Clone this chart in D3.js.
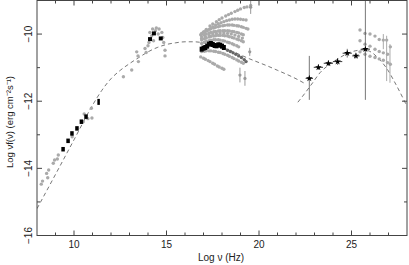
<!DOCTYPE html>
<html><head><meta charset="utf-8">
<script src="https://cdn.jsdelivr.net/npm/d3@7"></script>
<style>body{margin:0;background:#fff}svg{display:block}text{font-family:"Liberation Sans",Arial,sans-serif;fill:#222}</style>
</head><body><svg id="c" width="409" height="265"></svg>
<script>
// ---- data ----
const xTicksMajor = [10, 15, 20, 25];
const yTicksMajor = [-10, -12, -14, -16];
const synchModel = [[8,-15.2],[9,-14.18],[10,-13.15],[11,-12.12],[11.5,-11.68],[12,-11.33],[12.5,-11.08],[13,-10.88],[13.5,-10.7],[14,-10.53],[14.5,-10.4],[15,-10.31],[15.5,-10.26],[16,-10.23],[16.5,-10.23],[17,-10.26],[17.5,-10.31],[18,-10.39],[18.5,-10.5],[19,-10.62],[19.5,-10.74],[20,-10.85],[20.5,-10.96],[21,-11.08],[21.5,-11.2],[22,-11.33],[22.5,-11.48]];
const icModel = [[22.1,-12.03],[22.5,-11.75],[22.9,-11.45],[23.3,-11.15],[23.7,-10.95],[24.2,-10.76],[24.7,-10.6],[25.2,-10.5],[25.7,-10.47],[26.1,-10.55],[26.5,-10.75],[26.9,-11.02],[27.4,-11.5],[28,-12.15]];
const radioGrey = [[8.23,-14.47],[8.3,-14.38],[8.52,-14.15],[8.58,-14.28],[8.63,-14.05],[8.88,-13.85],[8.95,-13.75],[9.1,-13.72],[9.15,-13.6],[9.9,-13.06],[10.5,-12.61],[10.55,-12.38],[10.75,-12.52],[10.94,-12.21],[10.97,-12.5]];
const radioBlack = [[9.41,-13.43],[9.68,-13.18],[9.89,-12.96],[10.16,-12.81],[10.40,-12.61],[10.65,-12.46],[11.33,-12.02]];
const optGrey = [[12.67,-11.27],[13.12,-11.07],[13.39,-10.53],[13.48,-10.82],[13.46,-10.65],[13.84,-10.43],[13.9,-10.55],[14.05,-10.25],[14.1,-9.95],[14.25,-9.85],[14.45,-9.82],[14.6,-9.85],[14.75,-9.95],[14.8,-10.1],[14.55,-10.0],[14.2,-10.05],[14.85,-10.25],[14.92,-10.48],[14.92,-10.65],[14.3,-10.2],[14.0,-10.35],[14.4,-9.9]];
const optBlack = [[14.11,-10.15],[14.32,-9.98],[14.69,-10.13]];
const xrayA = [[16.85,-10.02],[17.0,-9.94],[17.15,-9.86],[17.35,-9.76],[17.5,-9.7],[17.7,-9.63],[17.85,-9.57],[18.0,-9.52],[18.2,-9.46],[18.35,-9.42],[18.5,-9.38],[18.7,-9.33],[18.85,-9.29],[19.0,-9.25],[19.2,-9.21],[19.35,-9.19],[19.55,-9.15]];
const xrayA2 = [[16.9,-10.0],[17.05,-9.95],[17.2,-9.9],[17.35,-9.85],[17.5,-9.79],[17.65,-9.73],[17.8,-9.69],[17.95,-9.66],[18.1,-9.63],[18.25,-9.6],[18.4,-9.58],[18.55,-9.56],[18.7,-9.55],[18.85,-9.55],[19.0,-9.56],[19.15,-9.57],[19.3,-9.58]];
const xrayB = [[16.9,-9.98],[17.05,-9.93],[17.15,-9.9],[17.3,-9.86],[17.4,-9.84],[17.55,-9.82],[17.65,-9.8],[17.8,-9.78],[17.9,-9.76],[18.05,-9.75],[18.15,-9.74],[18.3,-9.73],[18.4,-9.73],[18.55,-9.73],[18.65,-9.74],[18.8,-9.75],[18.9,-9.76],[19.05,-9.78],[19.15,-9.8],[19.3,-9.83],[19.4,-9.85]];
const xrayC = [[16.9,-10.08],[17.05,-10.03],[17.15,-10.0],[17.3,-9.97],[17.4,-9.95],[17.55,-9.93],[17.65,-9.92],[17.8,-9.91],[17.9,-9.9],[18.05,-9.9],[18.15,-9.9],[18.3,-9.9],[18.4,-9.91],[18.55,-9.92],[18.65,-9.93],[18.8,-9.95],[18.9,-9.97],[19.05,-10.0],[19.15,-10.02]];
const xrayC2 = [[16.9,-10.13],[17.1,-10.08],[17.3,-10.03],[17.5,-10.0],[17.7,-9.98],[17.9,-9.97],[18.1,-9.97],[18.3,-9.98],[18.5,-10.0],[18.7,-10.03],[18.9,-10.07],[19.1,-10.12]];
const xrayD = [[16.9,-10.18],[17.05,-10.14],[17.15,-10.12],[17.3,-10.09],[17.4,-10.07],[17.55,-10.06],[17.65,-10.05],[17.8,-10.04],[17.9,-10.04],[18.05,-10.04],[18.15,-10.05],[18.3,-10.06],[18.4,-10.08],[18.55,-10.1],[18.65,-10.12],[18.8,-10.15],[18.9,-10.17],[19.05,-10.2],[19.15,-10.23]];
const xrayE = [[16.9,-10.28],[17.05,-10.24],[17.15,-10.22],[17.3,-10.2],[17.4,-10.18],[17.55,-10.17],[17.65,-10.17],[17.8,-10.17],[17.9,-10.18],[18.05,-10.2],[18.15,-10.21],[18.3,-10.24],[18.4,-10.26],[18.55,-10.29],[18.65,-10.32],[18.8,-10.35],[18.9,-10.38]];
const xrayF = [[16.9,-10.52],[17.05,-10.51],[17.15,-10.5],[17.3,-10.5],[17.4,-10.5],[17.55,-10.51],[17.65,-10.52],[17.8,-10.54],[17.9,-10.55],[18.05,-10.58],[18.15,-10.6],[18.3,-10.63],[18.4,-10.66],[18.55,-10.7],[18.65,-10.73],[18.8,-10.77],[18.9,-10.8],[19.05,-10.84],[19.15,-10.87]];
const xrayG = [[16.85,-10.68],[17.0,-10.72],[17.1,-10.75],[17.25,-10.79],[17.35,-10.82],[17.5,-10.87],[17.6,-10.9],[17.75,-10.95],[17.85,-10.98],[18.0,-11.02],[18.1,-11.05]];
const xrayDark = [[18.3,-10.48],[18.45,-10.52],[18.6,-10.56],[18.75,-10.6],[18.9,-10.65],[19.05,-10.7],[19.2,-10.76],[19.3,-10.82]];
const xrayErr = [[18.97,-11.22,0.22],[19.24,-11.32,0.22],[19.5,-10.53,0.12],[19.55,-9.2,0.2]];
const xrayBlack = [[16.9,-10.45],[17.0,-10.42],[17.1,-10.4],[17.2,-10.36],[17.3,-10.3],[17.4,-10.28],[17.5,-10.31],[17.6,-10.34],[17.7,-10.35],[17.8,-10.32],[17.9,-10.33],[18.0,-10.36],[18.1,-10.4]];
// nu, value, x half-width, lower, upper
const gammaBlack = [[22.72,-11.32,0.2,-11.96,-10.65],[23.21,-10.99,0.25,-11.07,-10.91],[23.75,-10.87,0.25,-10.95,-10.79],[24.25,-10.82,0.25,-10.92,-10.72],[24.77,-10.57,0.25,-10.7,-10.44],[25.24,-10.65,0.2,-10.73,-10.57],[25.75,-10.45,0.25,-11.96,-8.9]];
const gamma1 = [[25.46,-9.88],[25.73,-9.98],[26.0,-10.0],[26.27,-10.06],[26.5,-10.16],[26.72,-10.18],[26.9,-10.18]];
const gamma2 = [[25.46,-10.2],[25.73,-10.3],[26.0,-10.36],[26.27,-10.45],[26.5,-10.52],[26.72,-10.56],[26.95,-10.6],[27.1,-10.38]];
const gamma3 = [[25.46,-10.53],[25.73,-10.6],[26.0,-10.66],[26.27,-10.7],[26.5,-10.74],[26.72,-10.78],[26.95,-10.85],[27.1,-10.9]];
const gammaGreyErr = [[26.72,-10.0,-10.45],[26.9,-10.05,-11.4],[27.08,-10.3,-11.45]];

// ---- chart ----
const svg = d3.select("#c");
const x = d3.scaleLinear().domain([8, 28]).range([37, 407]);
const y = d3.scaleLinear().domain([-16, -9]).range([235.5, 0.5]);
const grey = "#aaaaaa";
const frame = "#444";

const plot = svg.append("g");
plot.append("clipPath").attr("id","clip").append("rect").attr("x",37).attr("y",0.5).attr("width",370).attr("height",235);
const g = plot.append("g").attr("clip-path","url(#clip)");

const line = d3.line().x(d=>x(d[0])).y(d=>y(d[1])).curve(d3.curveMonotoneX);
g.append("path").attr("d", line(synchModel)).attr("fill","none").attr("stroke","#555").attr("stroke-width",0.8).attr("stroke-dasharray","4,3");
g.append("path").attr("d", line(icModel)).attr("fill","none").attr("stroke","#555").attr("stroke-width",0.8).attr("stroke-dasharray","4,3");

function dots(data, r, color){
  g.append("g").selectAll("circle").data(data).join("circle")
    .attr("cx",d=>x(d[0])).attr("cy",d=>y(d[1])).attr("r",r).attr("fill",color);
}
[radioGrey, optGrey, xrayA, xrayA2, xrayB, xrayC, xrayC2, xrayD, xrayE, xrayF, xrayG, gamma1, gamma2, gamma3].forEach(s=>dots(s,1.7,grey));
dots(xrayDark,1.7,"#666");

// grey error bars
g.append("g").selectAll("line").data(xrayErr).join("line")
  .attr("x1",d=>x(d[0])).attr("x2",d=>x(d[0])).attr("y1",d=>y(d[1]-d[2])).attr("y2",d=>y(d[1]+d[2]))
  .attr("stroke","#999").attr("stroke-width",1);
dots(xrayErr.map(d=>[d[0],d[1]]),1.6,"#999");
g.append("g").selectAll("line").data(gammaGreyErr).join("line")
  .attr("x1",d=>x(d[0])).attr("x2",d=>x(d[0])).attr("y1",d=>y(d[1])).attr("y2",d=>y(d[2]))
  .attr("stroke",grey).attr("stroke-width",1);

// black points
function rects(data, w, h){
  g.append("g").selectAll("rect").data(data).join("rect")
    .attr("x",d=>x(d[0])-w/2).attr("y",d=>y(d[1])-h/2).attr("width",w).attr("height",h).attr("fill","#000");
}
rects(radioBlack.slice(0,6),3.5,4.5);
rects(radioBlack.slice(6),2.5,6);
rects(optBlack,4,4);
rects(xrayBlack,4,5);

// gamma error bars and stars
const gb = g.append("g");
gb.selectAll("line.h").data(gammaBlack).join("line").attr("class","h")
  .attr("x1",d=>x(d[0]-d[2])).attr("x2",d=>x(d[0]+d[2])).attr("y1",d=>y(d[1])).attr("y2",d=>y(d[1]))
  .attr("stroke","#000").attr("stroke-width",0.8);
gb.selectAll("line.v").data(gammaBlack).join("line").attr("class","v")
  .attr("x1",d=>x(d[0])).attr("x2",d=>x(d[0])).attr("y1",d=>y(d[3])).attr("y2",d=>y(d[4]))
  .attr("stroke","#555").attr("stroke-width",0.8);
gb.selectAll("path").data(gammaBlack).join("path")
  .attr("transform",d=>`translate(${x(d[0])},${y(d[1])})`)
  .attr("d", d3.symbol().type(d3.symbolStar).size(14)).attr("fill","#000");

// frame
svg.append("rect").attr("x",37).attr("y",0.5).attr("width",370).attr("height",235).attr("fill","none").attr("stroke",frame).attr("stroke-width",1);

// ticks
const xMinor = d3.range(9, 28, 1);
const yMinor = d3.range(-15, -9, 1);
const tk = svg.append("g").attr("stroke",frame).attr("stroke-width",1);
xMinor.forEach(v=>{
  const L = xTicksMajor.includes(v) ? 5 : 3;
  tk.append("line").attr("x1",x(v)).attr("x2",x(v)).attr("y1",235.5).attr("y2",235.5-L);
  tk.append("line").attr("x1",x(v)).attr("x2",x(v)).attr("y1",0.5).attr("y2",0.5+L);
});
yMinor.forEach(v=>{
  const L = yTicksMajor.includes(v) ? 5 : 3;
  tk.append("line").attr("y1",y(v)).attr("y2",y(v)).attr("x1",37).attr("x2",37+L);
  tk.append("line").attr("y1",y(v)).attr("y2",y(v)).attr("x1",407).attr("x2",407-L);
});

// tick labels
svg.append("g").selectAll("text").data(xTicksMajor).join("text")
  .attr("x",d=>x(d)).attr("y",248).attr("text-anchor","middle").attr("font-size",10).text(d=>d);
svg.append("g").selectAll("text").data(yTicksMajor).join("text")
  .attr("transform",d=>`translate(32,${y(d)}) rotate(-90)`).attr("text-anchor","middle").attr("font-size",10)
  .text(d=>"\u2212"+Math.abs(d));

// axis titles
svg.append("text").attr("x",221).attr("y",261).attr("text-anchor","middle").attr("font-size",10).text("Log \u03bd (Hz)");
svg.append("text").attr("transform","translate(13,122) rotate(-90)").attr("text-anchor","middle").attr("font-size",9.5)
  .text("Log \u03bdf(\u03bd) (erg cm\u207b\u00b2s\u207b\u00b9)");
</script></body></html>
